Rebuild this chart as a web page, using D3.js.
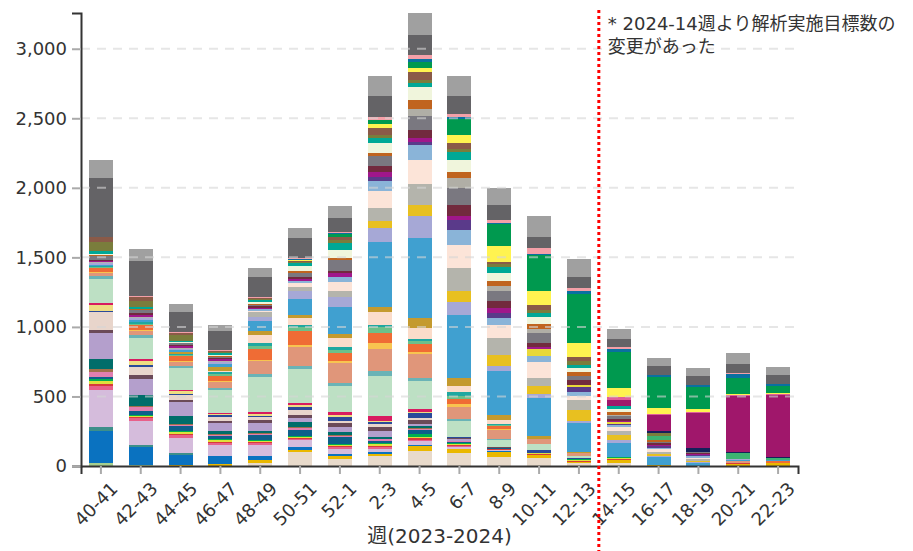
<!DOCTYPE html>
<html>
<head>
<meta charset="utf-8">
<script src="https://cdn.jsdelivr.net/npm/d3@7"></script>
<style>
  body { margin: 0; background: #fff; }
  text { font-family: "DejaVu Sans", "Noto Sans CJK JP", sans-serif; }
</style>
</head>
<body>
<div id="chart"></div>
<script>
// week categories (x axis)
var weeks = ["40-41", "42-43", "44-45", "46-47", "48-49", "50-51", "52-1", "2-3", "4-5",
  "6-7", "8-9", "10-11", "12-13", "14-15", "16-17", "18-19", "20-21", "22-23"];

var yTicks = [0, 500, 1000, 1500, 2000, 2500, 3000];

// detected counts per lineage group, bottom of stack first
var lg0 = [20, 10, 0, 0, 0, 0, 0, 0, 0, 0, 0, 0, 0, 0, 0, 0, 0, 0];
var beige = [0, 0, 0, 0, 22, 101, 53, 70, 108, 91, 67, 60, 19, 24, 0, 0, 0, 0];
var gold = [0, 0, 7, 12, 19, 12, 19, 19, 36, 29, 36, 20, 10, 20, 7, 0, 15, 20];
var blue = [232, 130, 72, 60, 29, 24, 17, 12, 5, 5, 5, 0, 0, 0, 0, 0, 0, 0];
var tealGray = [29, 10, 17, 0, 0, 0, 0, 0, 0, 0, 0, 0, 0, 0, 0, 0, 0, 0];
var lavender = [266, 175, 105, 81, 84, 48, 36, 20, 31, 15, 5, 0, 0, 0, 0, 0, 0, 0];
var pink = [29, 17, 19, 13, 10, 8, 10, 16, 10, 5, 5, 0, 0, 0, 0, 0, 0, 0];
var red = [15, 8, 8, 8, 8, 8, 10, 10, 10, 8, 3, 8, 8, 8, 0, 0, 8, 5];
var yellowGreen = [20, 10, 17, 13, 5, 5, 5, 8, 8, 5, 0, 8, 8, 5, 0, 0, 0, 0];
var green3 = [15, 5, 5, 5, 8, 8, 8, 8, 20, 5, 0, 0, 5, 5, 0, 0, 0, 0];
var petrol = [15, 34, 38, 24, 36, 48, 48, 19, 31, 10, 5, 0, 0, 0, 0, 0, 0, 0];
var pinkMauve = [36, 26, 10, 8, 10, 10, 10, 10, 10, 5, 0, 0, 0, 0, 0, 0, 0, 0];
var brown = [24, 8, 5, 5, 5, 5, 5, 5, 5, 0, 0, 0, 0, 0, 0, 0, 0, 0];
var darkTeal = [70, 79, 53, 22, 19, 36, 20, 10, 10, 5, 0, 0, 0, 0, 0, 0, 0, 0];
var purple = [187, 117, 103, 55, 53, 31, 36, 46, 19, 8, 3, 0, 0, 0, 0, 0, 0, 0];
var mauve = [22, 22, 17, 17, 24, 22, 29, 29, 29, 10, 5, 0, 0, 0, 0, 0, 0, 0];
var pinkBeige = [127, 60, 31, 31, 20, 40, 15, 20, 15, 0, 0, 0, 0, 0, 0, 0, 0, 0];
var navy = [10, 13, 10, 10, 10, 20, 34, 15, 31, 8, 0, 17, 5, 5, 0, 0, 0, 0];
var paleYellow = [43, 29, 19, 10, 10, 10, 10, 10, 10, 0, 0, 0, 0, 0, 0, 0, 0, 0];
var crimson = [10, 13, 10, 10, 15, 20, 20, 30, 20, 2, 0, 0, 0, 0, 0, 0, 0, 0];
var lightGreen = [175, 156, 158, 160, 252, 240, 190, 288, 200, 110, 53, 43, 20, 0, 0, 0, 0, 0];
var teal = [24, 17, 12, 19, 24, 24, 24, 36, 24, 17, 5, 0, 0, 0, 0, 0, 0, 0];
var salmon = [20, 31, 31, 41, 90, 137, 139, 161, 175, 89, 67, 36, 16, 0, 0, 0, 10, 0];
var orangeYellow = [5, 5, 5, 5, 10, 10, 15, 41, 15, 19, 10, 0, 0, 0, 0, 0, 0, 0];
var orange = [29, 36, 36, 41, 80, 101, 60, 72, 55, 36, 15, 0, 0, 0, 0, 0, 0, 10];
var green2 = [5, 10, 10, 10, 20, 31, 20, 41, 19, 20, 10, 0, 0, 0, 0, 0, 0, 0];
var tealStripe = [10, 15, 10, 15, 20, 15, 20, 19, 15, 28, 6, 0, 0, 0, 0, 0, 0, 0];
var peach = [0, 0, 0, 10, 60, 48, 65, 90, 80, 43, 31, 0, 0, 0, 0, 0, 0, 0];
var goldBrown = [0, 0, 10, 29, 29, 24, 31, 41, 75, 60, 36, 24, 12, 0, 0, 0, 0, 0];
var blue2 = [10, 17, 15, 17, 71, 113, 197, 465, 570, 455, 316, 276, 209, 101, 55, 19, 10, 8];
var lavBlue = [10, 10, 8, 15, 31, 60, 72, 103, 158, 89, 38, 29, 12, 19, 10, 10, 10, 0];
var goldStripe = [0, 0, 0, 0, 0, 0, 0, 48, 86, 84, 77, 55, 79, 38, 15, 10, 0, 0];
var greyBeige = [8, 10, 10, 10, 34, 29, 38, 96, 144, 160, 122, 55, 72, 29, 16, 10, 0, 0];
var peachLight = [0, 0, 0, 0, 10, 30, 65, 122, 177, 165, 94, 120, 29, 25, 20, 10, 0, 0];
var lightBlue = [0, 0, 0, 0, 9, 10, 36, 69, 105, 113, 48, 41, 31, 15, 10, 10, 0, 0];
var purpleDark = [0, 0, 0, 0, 0, 0, 0, 26, 26, 69, 36, 0, 31, 10, 10, 10, 0, 0];
var yellow2 = [0, 0, 0, 0, 0, 0, 0, 0, 0, 0, 0, 48, 17, 10, 0, 0, 0, 0];
var magenta = [5, 10, 10, 10, 10, 20, 30, 40, 29, 29, 41, 17, 0, 10, 10, 8, 0, 0];
var maroon = [10, 15, 10, 10, 10, 10, 17, 45, 58, 79, 47, 24, 36, 15, 10, 8, 0, 0];
var grey = [30, 24, 10, 8, 10, 31, 76, 69, 101, 120, 72, 75, 29, 20, 12, 8, 0, 0];
var greyBeige2 = [0, 0, 0, 0, 0, 0, 0, 0, 50, 72, 36, 31, 0, 10, 0, 0, 0, 0];
var burnt = [5, 5, 5, 5, 10, 10, 15, 22, 58, 43, 36, 34, 31, 20, 12, 0, 0, 0];
var paleGreen = [10, 5, 5, 10, 15, 40, 60, 70, 94, 89, 55, 50, 24, 19, 0, 0, 0, 0];
var tealGreen = [17, 10, 10, 10, 15, 20, 50, 40, 31, 60, 48, 29, 24, 24, 0, 0, 0, 0];
var green4 = [0, 0, 0, 0, 0, 0, 0, 0, 0, 0, 0, 0, 0, 0, 31, 0, 38, 12];
var olive = [70, 43, 40, 10, 5, 5, 20, 20, 25, 20, 16, 20, 25, 0, 16, 0, 0, 0];
var brownish = [30, 29, 15, 10, 9, 10, 20, 50, 55, 45, 20, 35, 35, 0, 0, 0, 0, 0];
var navy2 = [0, 0, 0, 0, 0, 0, 0, 0, 0, 0, 0, 0, 0, 0, 16, 29, 12, 12];
var magPurple = [0, 0, 0, 0, 0, 0, 0, 0, 0, 0, 0, 0, 0, 43, 115, 247, 402, 443];
var pinkHot = [0, 0, 0, 0, 0, 0, 0, 0, 0, 0, 0, 0, 0, 19, 9, 9, 5, 7];
var yellow = [0, 0, 0, 0, 0, 5, 5, 25, 29, 55, 113, 101, 100, 65, 45, 22, 8, 10];
var green = [0, 0, 0, 0, 0, 5, 20, 30, 43, 113, 158, 259, 350, 264, 219, 156, 117, 48];
var petrol2 = [0, 0, 0, 0, 0, 5, 5, 5, 19, 19, 9, 10, 24, 17, 14, 14, 26, 15];
var pinkLight = [5, 5, 5, 5, 5, 5, 10, 20, 31, 19, 20, 39, 21, 12, 0, 0, 5, 0];
var darkGrey = [425, 252, 146, 137, 141, 146, 101, 149, 144, 130, 108, 84, 79, 62, 67, 67, 67, 64];
var lightGrey = [127, 91, 58, 43, 67, 72, 84, 144, 158, 144, 123, 149, 127, 72, 60, 60, 82, 60];

// stack order and colours
var seriesList = [
  ["lg0", lg0, "#a6cf8f"], ["beige", beige, "#e8dacb"], ["gold", gold, "#eab800"],
  ["blue", blue, "#0a72c0"], ["tealGray", tealGray, "#3d8f8a"], ["lavender", lavender, "#d5bcdc"],
  ["pink", pink, "#e8608a"], ["red", red, "#d83a3a"], ["yellowGreen", yellowGreen, "#dfe03c"],
  ["green3", green3, "#00b050"], ["petrol", petrol, "#0e5f8a"], ["pinkMauve", pinkMauve, "#e07fb0"],
  ["brown", brown, "#a0704a"], ["darkTeal", darkTeal, "#006d6a"], ["purple", purple, "#b49fcc"],
  ["mauve", mauve, "#6b4a58"], ["pinkBeige", pinkBeige, "#e8d5cb"], ["navy", navy, "#2a4a9a"],
  ["paleYellow", paleYellow, "#eedd82"], ["crimson", crimson, "#d81b60"], ["lightGreen", lightGreen, "#bde0c4"],
  ["teal", teal, "#6ab3b6"], ["salmon", salmon, "#e0967a"], ["orangeYellow", orangeYellow, "#f8c450"],
  ["orange", orange, "#ef6c35"], ["green2", green2, "#6cc08a"], ["tealStripe", tealStripe, "#20a8a0"],
  ["peach", peach, "#fbdcca"], ["goldBrown", goldBrown, "#c49a2e"], ["blue2", blue2, "#40a0d0"],
  ["lavBlue", lavBlue, "#a6a8d6"], ["goldStripe", goldStripe, "#e8c020"], ["greyBeige", greyBeige, "#b4b4ac"],
  ["peachLight", peachLight, "#fce4d8"], ["lightBlue", lightBlue, "#8ab4d8"], ["purpleDark", purpleDark, "#5a3a8a"],
  ["yellow2", yellow2, "#e8d83a"], ["magenta", magenta, "#a0178b"], ["maroon", maroon, "#722a3e"],
  ["grey", grey, "#7a7880"], ["greyBeige2", greyBeige2, "#b0aea6"], ["burnt", burnt, "#c0641f"],
  ["paleGreen", paleGreen, "#f0f5dc"], ["tealGreen", tealGreen, "#00a896"], ["green4", green4, "#3cb371"],
  ["olive", olive, "#7a7d3c"], ["brownish", brownish, "#8a5a48"], ["navy2", navy2, "#14215a"],
  ["magPurple", magPurple, "#a0176b"], ["pinkHot", pinkHot, "#e0609a"], ["yellow", yellow, "#fff350"],
  ["green", green, "#00994f"], ["petrol2", petrol2, "#0a70a0"], ["pinkLight", pinkLight, "#f4a0a8"],
  ["darkGrey", darkGrey, "#646366"], ["lightGrey", lightGrey, "#a0a0a0"]
];

function drawChart() {
  var svgWidth = 913;
  var svgHeight = 551;

  var margin = { top: 13, bottom: 85, right: 115, left: 81 };
  var width = svgWidth - margin.left - margin.right;
  var height = svgHeight - margin.top - margin.bottom;

  var svg = d3.select("#chart")
    .append("svg")
    .attr("width", svgWidth)
    .attr("height", svgHeight);

  var chartGroup = svg.append("g")
    .attr("transform", `translate(${margin.left}, ${margin.top})`);

  // build table rows for d3.stack
  var keys = seriesList.map(s => s[0]);
  var colorOf = {};
  seriesList.forEach(s => { colorOf[s[0]] = s[2]; });
  var table = weeks.map((w, i) => {
    var row = { week: w };
    seriesList.forEach(s => { row[s[0]] = s[1][i]; });
    return row;
  });

  var stacked = d3.stack().keys(keys)(table);
  var maxTotal = d3.max(stacked[stacked.length - 1], d => d[1]);

  // scales
  var xScale = d3.scaleBand()
    .domain(weeks)
    .range([0, width])
    .paddingInner(0.4)
    .paddingOuter(0.2);

  var yScale = d3.scaleLinear()
    .domain([0, maxTotal])
    .range([height, 0]);

  // stacked bars
  chartGroup.selectAll("g.layer")
    .data(stacked)
    .enter()
    .append("g")
    .attr("class", "layer")
    .attr("fill", d => colorOf[d.key])
    .selectAll("rect")
    .data(d => d)
    .enter()
    .append("rect")
    .attr("x", d => xScale(d.data.week))
    .attr("y", d => yScale(d[1]))
    .attr("height", d => yScale(d[0]) - yScale(d[1]))
    .attr("width", xScale.bandwidth())
    .attr("shape-rendering", "crispEdges");

  // dashed gridlines, drawn over the bars
  chartGroup.selectAll("line.grid")
    .data(yTicks.filter(d => d > 0))
    .enter()
    .append("line")
    .attr("class", "grid")
    .attr("x1", 0)
    .attr("x2", width)
    .attr("y1", d => yScale(d))
    .attr("y2", d => yScale(d))
    .attr("stroke", "#d6d6d6")
    .attr("stroke-opacity", 0.6)
    .attr("stroke-width", 2)
    .attr("stroke-dasharray", "9,7");

  // axes
  var yAxis = d3.axisLeft(yScale)
    .tickValues(yTicks)
    .tickSize(9)
    .tickPadding(5)
    .tickFormat(d3.format(","));

  var xAxis = d3.axisBottom(xScale)
    .tickSize(8);

  var yG = chartGroup.append("g").call(yAxis);
  var xG = chartGroup.append("g")
    .attr("transform", `translate(0, ${height})`)
    .call(xAxis);

  [yG, xG].forEach(g => {
    g.select(".domain").attr("stroke", "#333").attr("stroke-width", 2);
    g.selectAll(".tick line").attr("stroke", "#aaa").attr("stroke-width", 2);
    g.selectAll(".tick text").attr("fill", "#333").attr("font-size", 18);
  });

  xG.selectAll(".tick text")
    .attr("x", 0)
    .attr("y", 0)
    .attr("dy", 0)
    .attr("text-anchor", "end")
    .attr("transform", "translate(18, 24) rotate(-45)");

  // x axis title
  svg.append("text")
    .attr("x", margin.left + width / 2)
    .attr("y", 543)
    .attr("text-anchor", "middle")
    .attr("fill", "#333")
    .attr("font-size", 20)
    .text("週(2023-2024)");

  // red dotted divider between 12-13 and 14-15
  var divX = margin.left + xScale("12-13") + xScale.bandwidth() + xScale.step() * xScale.paddingInner() / 2;
  svg.append("line")
    .attr("x1", divX)
    .attr("x2", divX)
    .attr("y1", 10)
    .attr("y2", svgHeight)
    .attr("stroke", "#ff0000")
    .attr("stroke-width", 3)
    .attr("stroke-dasharray", "3,3");

  // annotation
  var note = svg.append("text")
    .attr("fill", "#333")
    .attr("font-size", 18);
  note.append("tspan").attr("x", divX + 9).attr("y", 30).text("* 2024-14週より解析実施目標数の");
  note.append("tspan").attr("x", divX + 9).attr("y", 53).text("変更があった");
}

drawChart();
</script>
</body>
</html>
